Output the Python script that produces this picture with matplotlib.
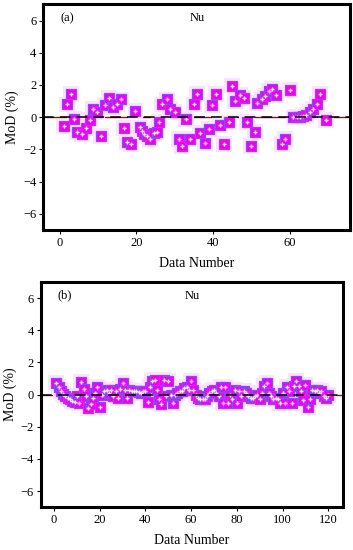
import matplotlib
matplotlib.use("Agg")
import matplotlib.pyplot as plt

# ---------------- data ----------------
a_x = [1.1, 2, 3, 3.9, 4.5, 5.9, 7, 7.9, 8.7, 9.9, 10.8, 11.9, 12.8, 14, 15, 16, 16.8,
       17.7, 18.6, 19.8, 21, 21.5, 22.1, 22.8, 23.7, 24.7, 25.3, 25.9, 26.6, 28, 28.9, 30,
       31.1, 32, 33, 33.9, 35, 35.9, 36.7, 38, 38.9, 39.8, 40.9, 41.9, 43, 44.1, 45, 45.8,
       47, 48, 49, 49.9, 51, 51.6, 52.8, 53.6, 54.5, 55.4, 56.5, 58, 58.9, 60.2, 61, 61.9,
       62.7, 63.5, 64.4, 65.2, 66.1, 67.2, 68, 69.5]
a_y = [-0.58, 0.79, 1.46, -0.13, -0.9, -1.06, -0.65, -0.15, 0.5, 0.29, -1.17, 0.75, 1.18,
       0.62, 0.81, 1.1, -0.66, -1.55, -1.69, 0.4, -0.64, -0.85, -1.06, -1.17, -1.38, -1.0,
       -0.9, -0.29, 0.79, 1.1, 0.5, 0.33, -1.38, -1.79, -0.13, -1.38, 0.79, 1.44, -0.96,
       -1.6, -0.75, 0.75, 1.46, -0.5, -1.69, -0.33, 1.96, 1.02, 1.38, 1.17, -0.29, -1.79,
       -0.9, 0.88, 1.1, 1.33, 1.65, 1.75, 1.38, -1.69, -1.38, 1.71, -0.02, 0.0, 0.0, 0.05,
       0.15, 0.3, 0.5, 0.8, 1.46, -0.17]

b_x = list(range(1, 121))
b_y = [0.75, 0.5, 0.2, 0.05, -0.1, -0.2, -0.3, -0.4, -0.45, -0.1,
       -0.55, 0.8, 0.35, -0.1, -0.85, -0.6, -0.2, 0.1, 0.45, -0.75,
       0.0, 0.2, 0.3, 0.1, 0.3, -0.1, 0.2, -0.2, 0.35, 0.7,
       0.3, -0.2, 0.3, 0.2, 0.25, 0.2, 0.15, 0.1, 0.2, 0.25,
       -0.45, 0.5, 0.85, 0.9, 0.3, -0.3, -0.6, 0.9, -0.1, 0.85,
       0.0, -0.5, 0.0, 0.1, 0.2, 0.25, 0.4, 0.5, 0.3, 0.85,
       0.3, 0.0, -0.2, -0.3, -0.3, -0.25, -0.1, 0.1, 0.2, 0.3,
       0.1, -0.1, 0.45, -0.5, 0.5, -0.5, 0.0, -0.3, 0.3, -0.55,
       0.2, -0.1, 0.2, 0.1, -0.1, -0.2, -0.2, -0.1, 0.0, -0.3,
       0.1, 0.55, 0.75, 0.1, -0.1, -0.3, -0.2, -0.3, -0.5, 0.1,
       -0.55, 0.45, 0.2, -0.5, 0.55, 0.85, 0.55, 0.2, -0.35, 0.6,
       -0.75, -0.3, 0.3, 0.2, 0.3, 0.1, 0.2, -0.1, -0.2, 0.0]

y_ticks = [-6, -4, -2, 0, 2, 4, 6]
a_xticks = [0, 20, 40, 60]
b_xticks = [0, 20, 40, 60, 80, 100, 120]
panel_labels = ["(a)", "(b)"]
title_txt = "Nu"
xlabel_txt = "Data Number"
ylabel_txt = "MoD (%)"

# ---------------- figure ----------------
plt.rcParams['font.family'] = ['Liberation Serif', 'DejaVu Serif']
fig = plt.figure(figsize=(3.53, 5.5), dpi=100)

ax_a = fig.add_axes([0.123, 0.582, 0.869, 0.410])
ax_b = fig.add_axes([0.116, 0.078, 0.856, 0.409])

def draw(ax, xs, ys, xlim, xticks, label):
    ax.axhline(0, color='#b00020', lw=1.0, zorder=1)
    ax.scatter(xs, ys, marker='s', s=130, color='#fde2fd', edgecolors='none', zorder=2)
    ax.scatter(xs, ys, marker='s', s=48, facecolor='#f000f0', edgecolors='#9448f0',
               linewidths=0.9, zorder=3)
    ax.scatter(xs, ys, marker='+', s=8, color='#ffe8ff', linewidths=1.0, zorder=4)
    ax.axhline(0, color='black', lw=1.1, ls=(0, (7, 4)), zorder=5)
    ax.set_xlim(*xlim)
    ax.set_ylim(-7, 7)
    ax.set_yticks(y_ticks)
    ax.set_xticks(xticks)
    ax.tick_params(direction='out', length=3, width=0.8, labelsize=9, pad=2)
    for s in ax.spines.values():
        s.set_linewidth(2.2)
    ax.text(0.055, 0.94, label, transform=ax.transAxes, fontsize=9, va='center')
    ax.text(0.5, 0.94, title_txt, transform=ax.transAxes, fontsize=9, va='center',
            ha='center')
    ax.set_xlabel(xlabel_txt, fontsize=10, labelpad=6)
    ax.set_ylabel(ylabel_txt, fontsize=10, labelpad=3)

draw(ax_a, a_x, a_y, (-4.2, 75.8), a_xticks, panel_labels[0])
draw(ax_b, b_x, b_y, (-5.7, 126.5), b_xticks, panel_labels[1])

fig.savefig("out.png", dpi=100)
